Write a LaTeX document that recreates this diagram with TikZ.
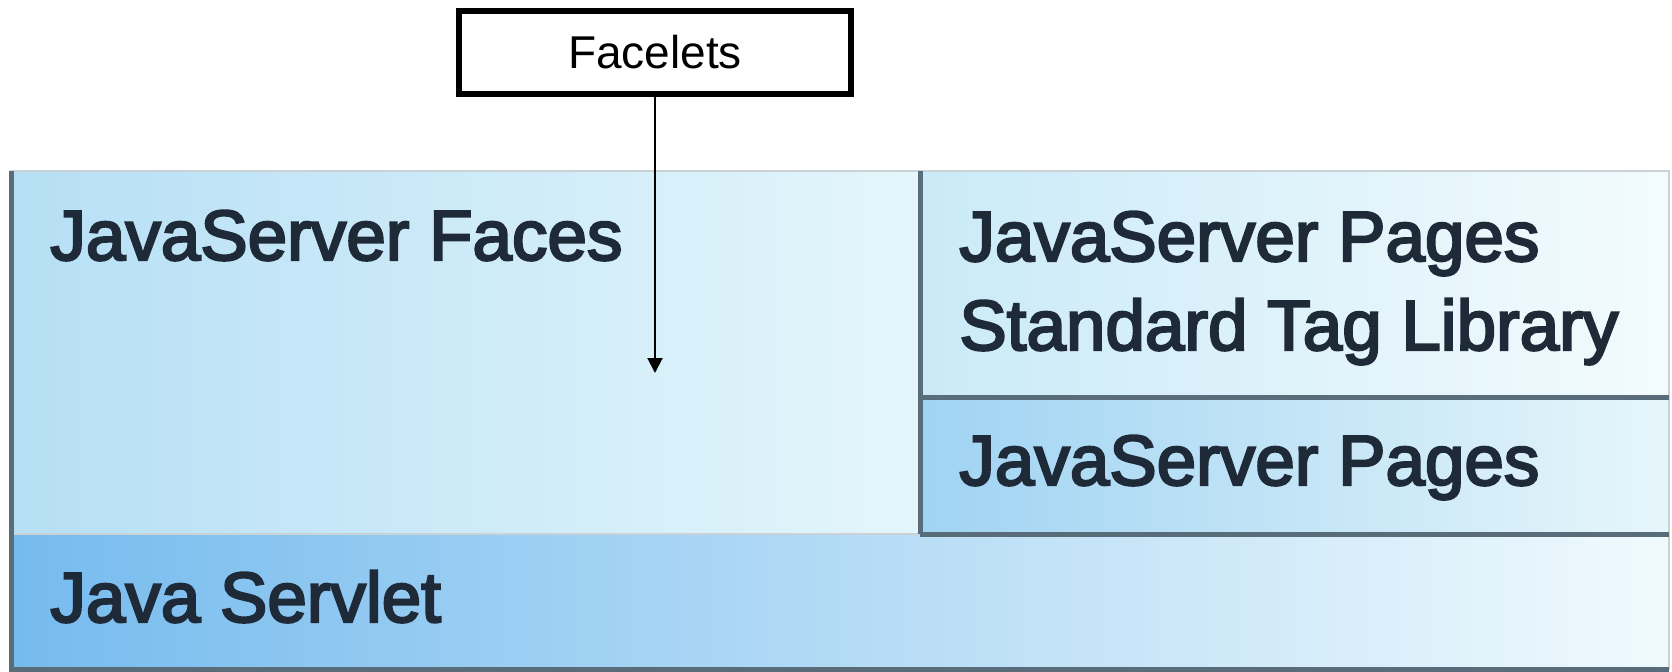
\documentclass[tikz,border=0pt]{standalone}
\usepackage{fontspec}
\setmainfont{Liberation Sans}
\newfontfamily\layerfont[FakeBold=3.2]{Liberation Sans}
\usetikzlibrary{arrows.meta, positioning, calc}
\definecolor{edgedark}   {RGB}{ 88, 108, 122}
\definecolor{edgelight}  {RGB}{200, 210, 215}
\definecolor{textdark}   {RGB}{ 30,  42,  55}
\definecolor{facesleft}  {RGB}{182, 223, 245}
\definecolor{facesright} {RGB}{228, 246, 251}
\definecolor{stlleft}    {RGB}{202, 234, 248}
\definecolor{stlright}   {RGB}{243, 251, 253}
\definecolor{jspleft}    {RGB}{160, 211, 243}
\definecolor{jspright}   {RGB}{230, 246, 250}
\definecolor{servleft}   {RGB}{118, 187, 238}
\definecolor{servright}  {RGB}{240, 250, 253}
\tikzset{
	layerbox/.style={
		rectangle, inner sep=0pt, outer sep=0pt,
		draw=edgelight, line width=0.8pt
	},
	layertext/.style={
		anchor=base west, inner sep=0pt, align=left,
		font=\layerfont\fontsize{35.5}{44.5}\selectfont, text=textdark
	},
	bevel/.style={
		draw=edgedark, line width=2.5pt
	},
	tagbox/.style={
		rectangle, draw=black, fill=white, line width=3pt,
		inner sep=0pt, outer sep=0pt,
		minimum width=196pt, minimum height=41.5pt,
		font=\fontsize{23}{27}\selectfont
	},
	arrow/.style={
		-{Triangle[length=7.5pt, width=7.5pt]}, line width=1pt, color=black
	}
}
\begin{document}
\begin{tikzpicture}[x=0.5pt, y=0.5pt]
		\useasboundingbox (0,0) rectangle (1672,671);
		
		%% ═══════════════════════════════
		%%  LAYERS — Servlet at the bottom, the rest stacked on it
		%% ═══════════════════════════════
		\node[layerbox, left color=servleft, right color=servright,
		anchor=south west,
		minimum width=829pt, minimum height=67.5pt] (servlet) at (11,2) {};
		
		\node[layerbox, left color=facesleft, right color=facesright,
		anchor=south west,
		minimum width=454.5pt, minimum height=181.5pt] (jsf) at (servlet.north west) {};
		
		\node[layerbox, left color=stlleft, right color=stlright,
		anchor=north west,
		minimum width=374.5pt, minimum height=113pt] (stl) at (jsf.north east) {};
		
		\node[layerbox, left color=jspleft, right color=jspright,
		anchor=north west,
		minimum width=374.5pt, minimum height=68.5pt] (jsp) at (stl.south west) {};
		
		% dark edges on the left and bottom of each layer
		\draw[bevel] (jsf.north west) -- (servlet.south west) -- (servlet.south east);
		\draw[bevel] (stl.north west) -- (jsp.south west);
		\draw[bevel] (stl.south west) -- (stl.south east);
		\draw[bevel] (jsp.south west) -- (jsp.south east);
		
		%% ═══════════════════════════════
		%%  LABELS
		%% ═══════════════════════════════
		\node[layertext] (jsflabel)  at ([xshift=19.5pt, yshift=-44.5pt]jsf.north west) {JavaServer Faces};
		% base of a two-line node sits on its last line
		\node[layertext] (stllabel)  at ([xshift=19.5pt, yshift=-89.5pt]stl.north west) {JavaServer Pages\\Standard Tag Library};
		\node[layertext] (jsplabel)  at ([xshift=19.5pt, yshift=-44pt]jsp.north west) {JavaServer Pages};
		\node[layertext] (servlabel) at ([xshift=19.5pt, yshift=-44pt]servlet.north west) {Java Servlet};
		
		%% ═══════════════════════════════
		%%  FACELETS
		%% ═══════════════════════════════
		\node[tagbox] (facelets) at (655,618.5) {Facelets};
		\coordinate (facesin) at (655,298);
		
		\draw[arrow] (facelets.south) -- (facesin);
		
	\end{tikzpicture}
\end{document}
